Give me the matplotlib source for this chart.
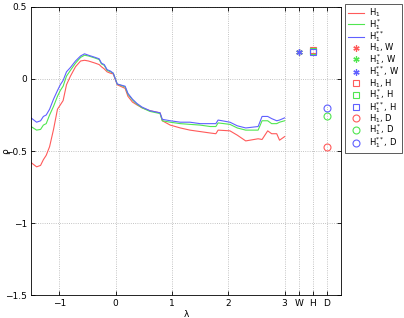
import numpy as np
import matplotlib
matplotlib.use('Agg')
import matplotlib.pyplot as plt

# breakpoints
lam = [-1.5, -1.40, -1.33, -1.28, -1.23, -1.17, -1.10, -1.03, -0.98, -0.93,
       -0.87, -0.80, -0.71, -0.62, -0.55, -0.48, -0.36, -0.29, -0.25, -0.20,
       -0.15, -0.09, -0.04, 0.03, 0.17, 0.22, 0.30, 0.38, 0.47, 0.61,
       0.79, 0.83, 0.97, 1.15, 1.32, 1.50, 1.68, 1.78, 1.82, 2.03,
       2.16, 2.31, 2.53, 2.60, 2.70, 2.77, 2.86, 2.91, 3.00]

rho_h1 = [-0.58, -0.61, -0.60, -0.56, -0.53, -0.47, -0.35, -0.21, -0.18, -0.15,
          -0.04, 0.02, 0.085, 0.125, 0.13, 0.125, 0.11, 0.10, 0.085, 0.07,
          0.05, 0.04, 0.035, -0.04, -0.065, -0.12, -0.16, -0.18, -0.20, -0.22,
          -0.235, -0.29, -0.32, -0.34, -0.355, -0.365, -0.375, -0.38, -0.355, -0.36,
          -0.39, -0.43, -0.415, -0.42, -0.36, -0.38, -0.38, -0.425, -0.40]

rho_h1s = [-0.33, -0.355, -0.35, -0.32, -0.31, -0.25, -0.19, -0.12, -0.08, -0.05,
           0.02, 0.06, 0.11, 0.15, 0.165, 0.16, 0.145, 0.135, 0.105, 0.095,
           0.06, 0.05, 0.04, -0.035, -0.055, -0.105, -0.145, -0.175, -0.20, -0.225,
           -0.24, -0.29, -0.30, -0.31, -0.315, -0.32, -0.33, -0.33, -0.305, -0.315,
           -0.34, -0.355, -0.355, -0.29, -0.29, -0.31, -0.31, -0.30, -0.29]

rho_h1ss = [-0.27, -0.30, -0.29, -0.26, -0.25, -0.21, -0.14, -0.08, -0.04, -0.01,
            0.05, 0.08, 0.125, 0.16, 0.175, 0.165, 0.15, 0.14, 0.11, 0.10,
            0.065, 0.055, 0.04, -0.035, -0.05, -0.10, -0.14, -0.17, -0.195, -0.22,
            -0.235, -0.28, -0.29, -0.30, -0.30, -0.31, -0.31, -0.31, -0.285, -0.30,
            -0.325, -0.34, -0.33, -0.26, -0.26, -0.275, -0.29, -0.285, -0.27]

# single-value measures at W, H, D
pos_w, pos_h, pos_d = 3.25, 3.5, 3.75
w_vals = [0.19, 0.19, 0.19]
h_vals = [0.20, 0.195, 0.19]
d_vals = [-0.475, -0.255, -0.20]

tick_pos = [-1, 0, 1, 2, 3, pos_w, pos_h, pos_d]
tick_lab = ['\u22121', '0', '1', '2', '3', 'W', 'H', 'D']

names = [r'H$_1$', r'H$_1^*$', r'H$_1^{**}$']
colors = ['#ff5a5a', '#50e650', '#6060ff']

fig = plt.figure(figsize=(4.04, 3.18), dpi=100)
ax = fig.add_axes([0.0767, 0.0723, 0.7673, 0.9057])

for vals, nm, c in zip([rho_h1, rho_h1s, rho_h1ss], names, colors):
    ax.plot(lam, vals, color=c, lw=0.8, label=nm)
# asterisk-style marker like MATLAB's '*'
for i in range(3):
    ax.plot(pos_w, w_vals[i], marker=(6, 2, 0), ls='none', color=colors[i], ms=4.5, mew=0.9,
            label=names[i] + ', W')
for i in range(3):
    ax.plot(pos_h, h_vals[i], 's', mfc='none', mec=colors[i], ms=4.5, mew=0.8, label=names[i] + ', H')
for i in range(3):
    ax.plot(pos_d, d_vals[i], 'o', mfc='none', mec=colors[i], ms=5, mew=0.8, label=names[i] + ', D')

ax.set_xlim(-1.5, 4)
ax.set_ylim(-1.5, 0.5)
ax.set_xticks(tick_pos)
ax.set_xticklabels(tick_lab)
ax.set_yticks([-1.5, -1, -0.5, 0, 0.5])
ax.set_yticklabels(['\u22121.5', '\u22121', '\u22120.5', '0', '0.5'])
ax.tick_params(direction='in', top=True, right=True, labelsize=6.5, length=3, width=0.6, pad=3)
ax.grid(True, ls=':', color='#b0b0b0', lw=0.6)
for s in ax.spines.values():
    s.set_linewidth(0.6)
ax.set_xlabel('\u03bb', fontsize=6.5, labelpad=1)
ax.set_ylabel('\u03c1', fontsize=6.5)
ax.yaxis.set_label_coords(-0.066, 0.5)

leg = ax.legend(loc='upper left', bbox_to_anchor=(345 / 404, 1 - 4 / 318),
                bbox_transform=fig.transFigure, borderaxespad=0, fontsize=6,
                fancybox=False, handlelength=2.0, labelspacing=-0.28,
                handletextpad=0.6, borderpad=0.3, framealpha=1)
leg.get_frame().set_edgecolor('#404040')
leg.get_frame().set_linewidth(0.6)

fig.savefig('out.png', dpi=100)
